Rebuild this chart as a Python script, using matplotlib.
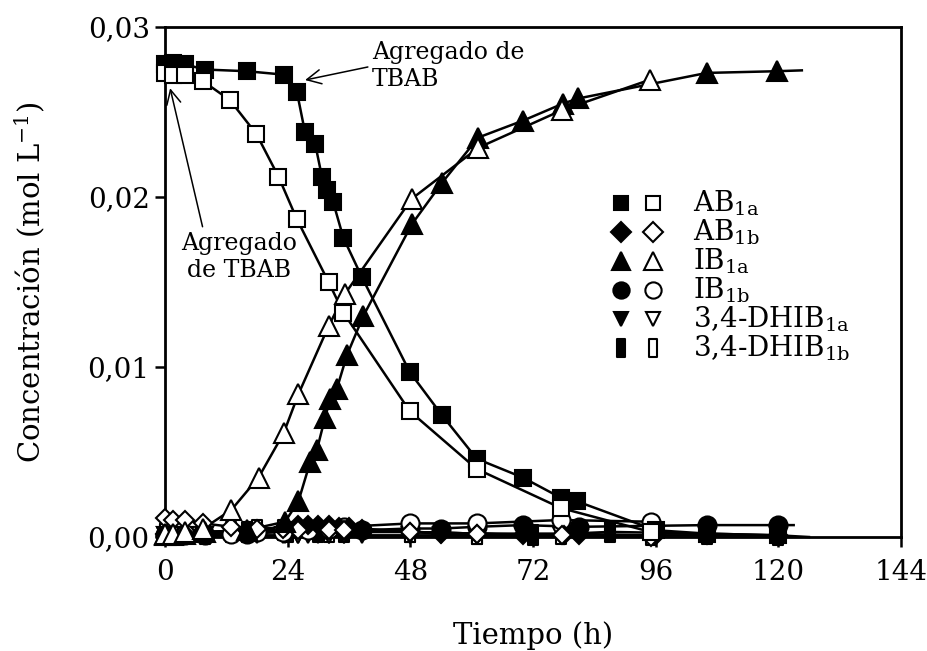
import matplotlib
matplotlib.use('Agg')
import matplotlib.pyplot as plt
from matplotlib.path import Path

plt.rcParams['font.family'] = 'DejaVu Serif'
plt.rcParams['mathtext.fontset'] = 'dejavuserif'

# --- datos (tiempo en h, concentracion en mol/L) ---
# serie 1a: simbolos llenos, serie 1b: simbolos vacios
t_ab_fill = [0, 1.6, 3.9, 7.8, 16, 23.2, 25.8, 27.4, 29.4, 30.7, 31.6, 32.9, 34.9, 38.5,
             47.9, 54.1, 61, 70, 77.5, 80.6, 96, 106, 120]
ab_fill = [0.0278, 0.0279, 0.0278, 0.0275, 0.0274, 0.0272, 0.0262, 0.0238, 0.0231, 0.0212,
           0.0204, 0.0197, 0.0176, 0.0153, 0.0097, 0.0072, 0.0046, 0.0035, 0.0023, 0.0021,
           0.0004, 0.0002, 0.0001]

t_ab_open = [0, 1.6, 3.9, 7.5, 12.7, 17.9, 22.2, 25.8, 32, 34.9, 47.9, 61, 77.5, 95]
ab_open = [0.0273, 0.0272, 0.0272, 0.0268, 0.0257, 0.0237, 0.0212, 0.0187, 0.0150, 0.0132,
           0.0074, 0.0040, 0.0017, 0.0003]

t_ib_fill = [0, 1.6, 3.9, 7.8, 16, 23.5, 26.1, 28.4, 29.7, 31.3, 32.3, 33.6, 35.6, 38.8,
             48.3, 54.1, 61.3, 70.1, 77.9, 80.9, 106, 119.7]
ib_fill = [0.0001, 0.0001, 0.0002, 0.0003, 0.0004, 0.0009, 0.0021, 0.0044, 0.0051, 0.0070,
           0.0081, 0.0087, 0.0107, 0.0130, 0.0184, 0.0208, 0.0235, 0.0245, 0.0255, 0.0258,
           0.0273, 0.0274]

t_ib_open = [0, 1.6, 3.9, 7.5, 13, 18.3, 23.2, 26.1, 32, 35.2, 48.3, 61.3, 77.6, 94.9]
ib_open = [0.0002, 0.0002, 0.0003, 0.0005, 0.0016, 0.0035, 0.0061, 0.0084, 0.0124, 0.0143,
           0.0199, 0.0229, 0.0251, 0.0269]

t_ab1b_fill = [0, 3.9, 7.8, 16, 23.5, 26, 28, 30, 32, 34, 36, 38.5, 48, 54, 61, 70, 78, 81,
               96, 106, 120]
ab1b_fill = [0.0002, 0.0002, 0.0003, 0.0004, 0.0006, 0.0007, 0.0007, 0.0007, 0.0007, 0.0006,
             0.0006, 0.0005, 0.0003, 0.0002, 0.0002, 0.0001, 0.0001, 0.0001, 0.0001, 0.0001,
             0.0001]

t_ab1b_open = [0, 1.6, 3.9, 7.5, 13, 18, 23, 26, 32, 35, 48, 61, 77.6, 95]
ab1b_open = [0.0011, 0.0010, 0.0010, 0.0008, 0.0006, 0.0005, 0.0005, 0.0004, 0.0004, 0.0004,
             0.0003, 0.0002, 0.0001, 0.0000]

t_ib1b_fill = [0, 3.9, 7.8, 16, 23.5, 30, 35, 38.5, 48, 54, 61, 70, 81, 106, 120]
ib1b_fill = [0.0001, 0.0001, 0.0001, 0.0002, 0.0003, 0.0003, 0.0004, 0.0004, 0.0005, 0.0005,
             0.0006, 0.0007, 0.0006, 0.0007, 0.0007]

t_ib1b_open = [0, 3.9, 7.5, 13, 18, 23, 28, 32, 35, 48, 61, 77.5, 95]
ib1b_open = [0.0001, 0.0002, 0.0002, 0.0002, 0.0003, 0.0003, 0.0004, 0.0005, 0.0006, 0.0008,
             0.0008, 0.0010, 0.0009]

t_dh1a_fill = [0, 3.9, 7.8, 16, 23.5, 26, 28, 30, 32, 35, 38.5, 48, 54, 61, 70, 78, 81, 96,
               106, 120]
dh1a_fill = [0.0001] * 20

t_dh1a_open = [0, 1.6, 3.9, 7.5, 13, 18, 23, 26, 32, 35, 48, 61, 77.5, 95]
dh1a_open = [0.0001] * 14

t_dh1b_fill = [0, 7.8, 16, 24, 30, 35, 48, 61, 72, 87, 106, 120]
dh1b_fill = [0.0002, 0.0002, 0.0003, 0.0003, 0.0003, 0.0003, 0.0003, 0.0002, 0.0001, 0.0003,
             0.0002, 0.0001]

t_dh1b_open = [0, 7.5, 13, 18, 23, 32, 48, 61, 77.5, 95]
dh1b_open = [0.0002, 0.0003, 0.0003, 0.0004, 0.0004, 0.0003, 0.0003, 0.0002, 0.0002, 0.0001]

# extremos de las curvas ajustadas
tail_ab_fill = (126, 0.0)
tail_ib_fill = (124.6, 0.02745)
tail_ib1b_fill = (123, 0.0007)

x_ticks = [0, 24, 48, 72, 96, 120, 144]
y_ticks = [0.0, 0.01, 0.02, 0.03]
y_labels = ['0,00', '0,01', '0,02', '0,03']

legend_names = [r'AB$_{\mathregular{1a}}$', r'AB$_{\mathregular{1b}}$',
                r'IB$_{\mathregular{1a}}$', r'IB$_{\mathregular{1b}}$',
                r'3,4-DHIB$_{\mathregular{1a}}$', r'3,4-DHIB$_{\mathregular{1b}}$']

# rectangulo angosto para 3,4-DHIB 1b
bar_marker = Path([(-0.25, -0.5), (0.25, -0.5), (0.25, 0.5), (-0.25, 0.5), (-0.25, -0.5)],
                  [Path.MOVETO, Path.LINETO, Path.LINETO, Path.LINETO, Path.CLOSEPOLY])

markers = ['s', 'D', '^', 'o', 'v', bar_marker]
sizes = [11, 9.5, 14, 13, 11, 14]
leg_sizes = [11, 11, 14, 13, 11, 14]

fig = plt.figure(figsize=(9.28, 6.51), dpi=100)
ax = fig.add_axes([0.1778, 0.1751, 0.7931, 0.7834])

lw = 1.8
mew = 1.5


def serie(t, c, m, ms, filled, tail=None):
    tt = list(t)
    cc = list(c)
    if tail is not None:
        tt.append(tail[0])
        cc.append(tail[1])
    ax.plot(tt, cc, '-', color='k', lw=lw, zorder=2, clip_on=False)
    ax.plot(t, c, linestyle='none', marker=m, ms=ms, mew=mew, mec='k',
            mfc='k' if filled else 'white', zorder=3, clip_on=False)


# cerca de cero primero, luego las curvas principales
serie(t_dh1b_fill, dh1b_fill, markers[5], sizes[5], True)
serie(t_dh1b_open, dh1b_open, markers[5], sizes[5], False)
serie(t_dh1a_fill, dh1a_fill, markers[4], sizes[4], True)
serie(t_dh1a_open, dh1a_open, markers[4], sizes[4], False)
serie(t_ib1b_fill, ib1b_fill, markers[3], sizes[3], True, tail_ib1b_fill)
serie(t_ib1b_open, ib1b_open, markers[3], sizes[3], False)
serie(t_ab1b_fill, ab1b_fill, markers[1], sizes[1], True)
serie(t_ab1b_open, ab1b_open, markers[1], sizes[1], False)
serie(t_ib_fill, ib_fill, markers[2], sizes[2], True, tail_ib_fill)
serie(t_ib_open, ib_open, markers[2], sizes[2], False)
serie(t_ab_fill, ab_fill, markers[0], sizes[0], True, tail_ab_fill)
serie(t_ab_open, ab_open, markers[0], sizes[0], False)

# leyenda dibujada a mano: simbolo lleno, simbolo vacio, nombre
leg_y = [0.01965, 0.01794, 0.01624, 0.01453, 0.01282, 0.01112]
for i in range(len(legend_names)):
    ax.plot([89.3], [leg_y[i]], marker=markers[i], ms=leg_sizes[i] * 0.9, mew=mew,
            mec='k', mfc='k', linestyle='none')
    ax.plot([95.5], [leg_y[i]], marker=markers[i], ms=leg_sizes[i] * 0.9, mew=mew,
            mec='k', mfc='white', linestyle='none')
    ax.text(103.3, leg_y[i], legend_names[i], fontsize=20, va='center', ha='left')

ax.annotate('Agregado de\nTBAB', xy=(27.4, 0.02688), xytext=(40.5, 0.0277),
            ha='left', va='center', fontsize=17,
            arrowprops=dict(arrowstyle='->,head_length=0.6,head_width=0.3', lw=1.1,
                            color='k', relpos=(0, 0.5), shrinkA=1, shrinkB=0))
ax.annotate('Agregado\nde TBAB', xy=(1.0, 0.0264), xytext=(14.4, 0.01647),
            ha='center', va='center', fontsize=17, multialignment='center',
            arrowprops=dict(arrowstyle='->,head_length=0.6,head_width=0.3', lw=1.1,
                            color='k', relpos=(0.2, 1.0), shrinkA=2, shrinkB=0))

ax.set_xlim(0, 144)
ax.set_ylim(0, 0.03)
ax.set_xticks(x_ticks)
ax.set_yticks(y_ticks)
ax.set_yticklabels(y_labels)
ax.tick_params(direction='out', length=7, width=1.8, labelsize=20)
ax.tick_params(axis='x', pad=9)
ax.tick_params(axis='y', pad=4)
for s in ax.spines.values():
    s.set_linewidth(2.0)

ax.set_xlabel('Tiempo (h)', fontsize=21)
ax.set_ylabel(r'Concentración (mol L$^{\mathregular{-1}}$)', fontsize=21)
ax.xaxis.set_label_coords(0.5, -0.165)
ax.yaxis.set_label_coords(-0.16, 0.5)

fig.savefig('out.png', dpi=100)
